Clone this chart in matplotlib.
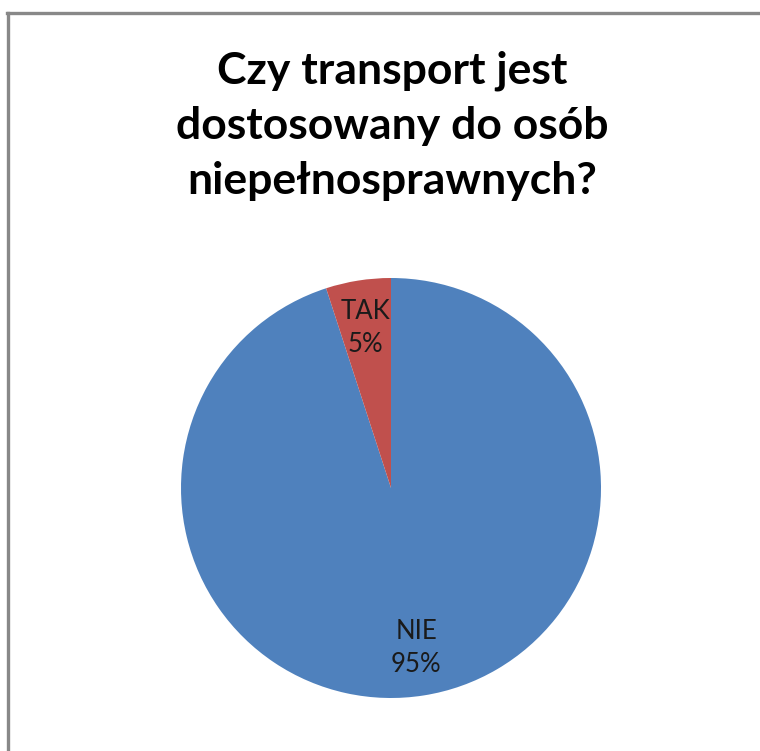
import matplotlib
matplotlib.use("Agg")
import matplotlib.pyplot as plt

title = "Czy transport jest\ndostosowany do osób\nniepełnosprawnych?"
categories = ["NIE", "TAK"]
values = [95, 5]
colors = ["#4F81BD", "#C0504D"]

plt.rcParams['font.family'] = ['Lato', 'DejaVu Sans']

W, H = 760, 751
fig = plt.figure(figsize=(W/100, H/100), dpi=100)
fig.patch.set_facecolor("white")

# outer frame (only top and left visible)
fig.add_artist(plt.Line2D([8/W, 8/W], [0, 1 - 13/H], transform=fig.transFigure,
                          color="#888888", lw=2.4))
fig.add_artist(plt.Line2D([7/W, 1], [1 - 13/H, 1 - 13/H], transform=fig.transFigure,
                          color="#888888", lw=2.4))

cx, cy, r = 391, 751 - 488, 210
ax = fig.add_axes([(cx - r)/W, (cy - r)/H, 2*r/W, 2*r/H])
wedges, texts = ax.pie(values, colors=colors, startangle=90, counterclock=False,
                       labels=[f"{c}\n{v}%" for c, v in zip(categories, values)],
                       labeldistance=0.77, radius=1.0,
                       textprops=dict(fontsize=18.5, color="#1a1a1a", ha="center",
                                      va="center", linespacing=1.4))
ax.set_xlim(-1, 1)
ax.set_ylim(-1, 1)
ax.set_aspect("equal")
ax.axis("off")

fig.text(392/W, 1 - 126/H, title, ha="center", va="center", fontsize=32,
         fontweight="bold", color="black", linespacing=1.45)

fig.savefig("out.png", dpi=100)
